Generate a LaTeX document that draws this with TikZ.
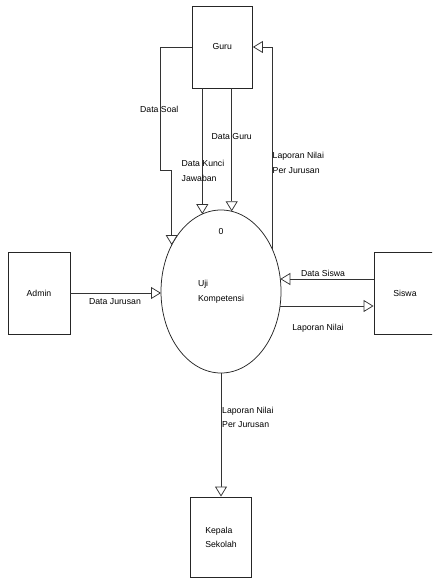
\documentclass[tikz,border=0pt]{standalone}
\usepackage{fontspec}
\setmainfont{Liberation Sans}
\usetikzlibrary{shapes.geometric,arrows.meta}
\begin{document}
\begin{tikzpicture}[x=1pt,y=-1pt,
  box/.style={draw=black!85,line width=0.9pt,minimum width=61pt,minimum height=82pt,inner sep=0pt,font=\fontsize{8.7}{14}\selectfont,text=black,align=left},
  proc/.style={draw=black!85,line width=0.75pt,ellipse,minimum width=120pt,minimum height=163pt,inner sep=0pt,outer sep=0pt,font=\fontsize{8.7}{15}\selectfont,text=black,align=left},
  lbl/.style={font=\fontsize{8.7}{14.5}\selectfont,text=black,align=left,inner sep=0pt},
  flow/.style={draw=black!80,line width=0.75pt,-{Triangle[open,length=10pt,width=12pt,fill=white]}}
]
\useasboundingbox (0,0) rectangle (432,580);
\clip (0,0) rectangle (432,580);

\node[box,minimum width=60.5pt] (guru) at (222.2,47) {Guru};
\node[box,minimum width=62pt] (admin) at (39,293) {Admin};
\node[box,minimum width=62pt] (siswa) at (405,293) {Siswa};
\node[box,minimum width=61pt,minimum height=80pt] (kepala) at (221,537) {Kepala\\Sekolah};
\node[proc] (p) at (221,291.5) {Uji\\Kompetensi};
\node[lbl] (zero) at (221,232) {0};

\coordinate (eSoal) at (171.7,245.0);
\coordinate (eKJ) at (202.3,214.1);
\coordinate (eGuru) at (231.7,211.3);
\coordinate (eLap) at (272.5,249.7);
\coordinate (eDS) at (280.3,279);
\coordinate (eLN) at (280.0,306);
\coordinate (bendSoal) at (160.7,170);

\draw[flow] (guru.west) -| (bendSoal) -| (eSoal);
\draw[flow] (eKJ |- guru.south) -- (eKJ);
\draw[flow] (eGuru |- guru.south) -- (eGuru);
\draw[flow] (eLap) |- (guru.east);
\draw[flow] (admin.east) -- (admin.east -| p.west);
\draw[flow] (siswa.west |- eDS) -- (eDS);
\draw[flow] (eLN) -- (siswa.west |- eLN);
\draw[flow] (p.south) -- (kepala.north);

\node[lbl,anchor=west] (lSoal) at (140,109) {Data Soal};
\node[lbl,anchor=west] (lGuru) at (211.5,137) {Data Guru};
\node[lbl,anchor=west] (lKJ) at (181.5,171) {Data Kunci\\Jawaban};
\node[lbl,anchor=west] (lLap) at (272.5,163) {Laporan Nilai\\Per Jurusan};
\node[lbl] (lJur) at (115,302) {Data Jurusan};
\node[lbl] (lDS) at (323,273) {Data Siswa};
\node[lbl] (lLN) at (318,328) {Laporan Nilai};
\node[lbl,anchor=west] (lKep) at (222,417.5) {Laporan Nilai\\Per Jurusan};
\end{tikzpicture}
\end{document}
